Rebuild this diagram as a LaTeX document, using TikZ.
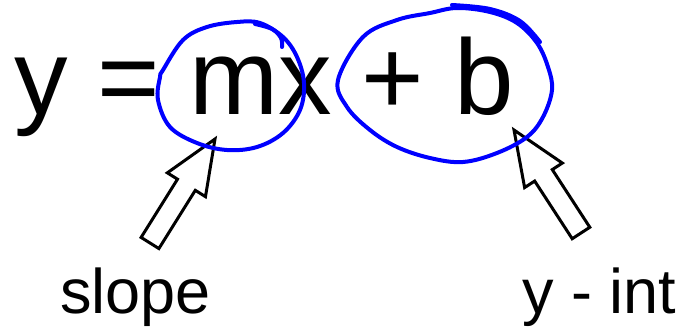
\documentclass[tikz,border=0pt]{standalone}
\usepackage{fontspec}
\setmainfont{Liberation Sans}
\usetikzlibrary{calc}
\definecolor{penblue}{RGB}{0,0,255}

% hollow block arrow from tail #1 to tip #2
\newcommand{\blockarrow}[2]{%
  \draw[blockarr] ($(#1)!10.5pt!90:(#2)$)
    -- ($(#1)!0.56!(#2)!10.5pt!90:(#2)$)
    -- ($(#1)!0.56!(#2)!22.5pt!90:(#2)$)
    -- (#2)
    -- ($(#1)!0.56!(#2)!22.5pt!-90:(#2)$)
    -- ($(#1)!0.56!(#2)!10.5pt!-90:(#2)$)
    -- ($(#1)!10.5pt!-90:(#2)$) -- cycle;}

\begin{document}
\begin{tikzpicture}[x=1pt, y=1pt,
  eqn/.style={inner sep=0pt, anchor=base west, font=\fontsize{107}{107}\selectfont},
  lbl/.style={inner sep=0pt, anchor=base west, font=\fontsize{63}{63}\selectfont},
  inkring/.style={draw=penblue, line width=4pt, line cap=round, line join=round},
  blockarr/.style={draw=black, line width=3pt, line join=miter},
]
  \useasboundingbox (0,0) rectangle (685,327);

  \node[eqn] (eq) at (14,212) {y = mx + b};
  \node[lbl] (slope) at (60,14) {slope};
  \node[lbl] (yint) at (522,14) {y - int};

  \coordinate (slopeTail) at (150,84);
  \coordinate (slopeTip)  at (215,188);
  \coordinate (intTail)   at (581,94);
  \coordinate (intTip)    at (514,197);
  \blockarrow{slopeTail}{slopeTip}
  \blockarrow{intTail}{intTip}

  % circle round mx
  \draw[inkring] plot[smooth cycle, tension=0.6] coordinates {
    (163,257) (183,287) (207,300) (237,305) (260,304) (283,290) (297,270) (304,244)
    (300,217) (283,194) (257,180) (227,177) (197,184) (170,200) (158,227) (160,250)};
  \draw[inkring] plot[smooth, tension=0.6] coordinates {(255,303) (272,298) (281,289) (282,280)};

  % circle round + b
  \draw[inkring] plot[smooth cycle, tension=0.6] coordinates {
    (338,247) (347,220) (370,197) (397,180) (430,169) (463,165) (497,174) (527,190)
    (543,210) (552,237) (548,260) (537,284) (517,304) (490,315) (457,319) (430,314)
    (397,307) (363,290)};
  \draw[inkring] plot[smooth, tension=0.6] coordinates {(452,322) (490,318) (520,306) (540,285)};
\end{tikzpicture}
\end{document}
